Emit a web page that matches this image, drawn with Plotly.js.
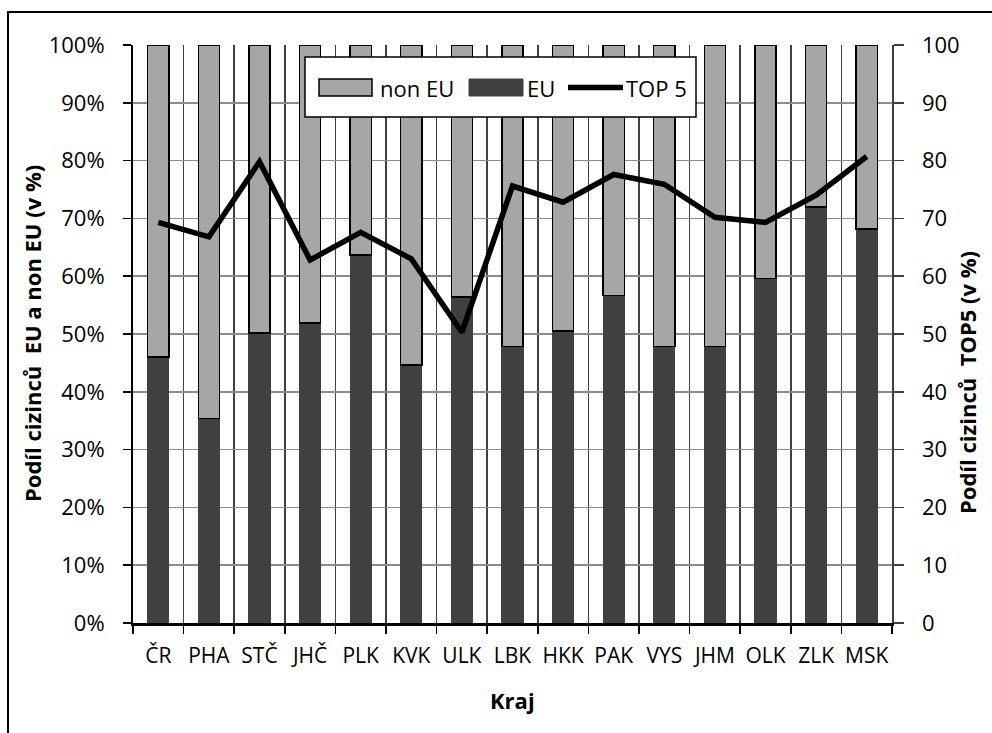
<!DOCTYPE html>
<html>
<head>
<meta charset="utf-8">
<script src="https://cdn.plot.ly/plotly-3.0.1.min.js"></script>
<style>html,body{margin:0;padding:0;background:#fff;overflow:hidden;}</style>
</head>
<body>
<div id="chart" style="width:992px;height:733px;"></div>
<script>
// ---- data ----
const categories = ["ČR","PHA","STČ","JHČ","PLK","KVK","ULK","LBK","HKK","PAK","VYS","JHM","OLK","ZLK","MSK"];
const euShare = [46.0,35.4,50.2,51.9,63.7,44.6,56.4,47.8,50.5,56.7,47.8,47.8,59.6,72.0,68.2];
const nonEuShare = euShare.map(v => +(100 - v).toFixed(1));
const top5Share = [69.3,66.8,79.8,62.8,67.6,63.0,50.3,75.6,72.8,77.6,75.9,70.2,69.3,74.0,80.7];
const leftTicks = [0,10,20,30,40,50,60,70,80,90,100];
const leftTickText = leftTicks.map(v => v + "%");
const rightTicks = [0,10,20,30,40,50,60,70,80,90,100];

// ---- geometry helpers (pixel -> paper) ----
const W = 992, H = 733;
const M = {l:133, r:100, t:45, b:110};
const PW = W - M.l - M.r, PH = H - M.t - M.b;
const px = x => (x - M.l) / PW;
const py = y => (H - M.b - y) / PH;

const FONT = "Open Sans, Noto Sans, sans-serif";
const EU_COLOR = "#404040", NONEU_COLOR = "#a6a6a6";

const traces = [
  {type:"bar", name:"EU", x:categories, y:euShare, marker:{color:EU_COLOR, line:{color:EU_COLOR, width:1}}, hoverinfo:"x+y"},
  {type:"bar", name:"non EU", x:categories, y:nonEuShare, marker:{color:NONEU_COLOR, line:{color:"#000", width:1.5}}, hoverinfo:"x+y"},
  {type:"scatter", mode:"lines", name:"TOP 5", x:categories, y:top5Share, yaxis:"y2", line:{color:"#000", width:5.5}}
];

const layout = {
  width:W, height:H,
  margin:M,
  paper_bgcolor:"#fff", plot_bgcolor:"#fff",
  barmode:"stack", bargap:0.58,
  showlegend:false,
  font:{family:FONT, size:22, color:"#000"},
  xaxis:{
    type:"category", tickson:"boundaries", tickangle:0,
    showgrid:true, gridcolor:"#404040", gridwidth:1.5,
    showline:true, linecolor:"#000", linewidth:2.5,
    ticks:"outside", ticklen:8, tickcolor:"#000", tickwidth:1.5,
    ticklabelstandoff:12,
    tickfont:{family:FONT, size:21, color:"#000"},
    fixedrange:true
  },
  yaxis:{
    range:[0,100], tickvals:leftTicks, ticktext:leftTickText,
    showgrid:true, gridcolor:"#8c8c8c", gridwidth:1.5,
    showline:true, linecolor:"#000", linewidth:2,
    ticks:"outside", ticklen:8, tickcolor:"#000", tickwidth:1.5,
    ticklabelstandoff:14,
    zeroline:false,
    tickfont:{family:FONT, size:22, color:"#000"},
    fixedrange:true
  },
  yaxis2:{
    overlaying:"y", side:"right", range:[0,100], tickvals:rightTicks,
    showgrid:false, zeroline:false,
    showline:true, linecolor:"#404040", linewidth:1.5,
    ticks:"outside", ticklen:10, tickcolor:"#404040", tickwidth:1.5,
    ticklabelstandoff:14,
    tickfont:{family:FONT, size:22, color:"#000"},
    fixedrange:true
  },
  shapes:[
    {type:"rect", xref:"paper", yref:"paper", x0:px(8), x1:px(1005), y0:py(800), y1:py(12), line:{color:"#000", width:2}, fillcolor:"rgba(0,0,0,0)", layer:"above"},
    {type:"rect", xref:"paper", yref:"paper", x0:px(305), x1:px(696), y0:py(117), y1:py(57), line:{color:"#000", width:1.5}, fillcolor:"#fff", layer:"above"},
    {type:"rect", xref:"paper", yref:"paper", x0:px(319), x1:px(372), y0:py(96), y1:py(79), line:{color:"#000", width:1.5}, fillcolor:NONEU_COLOR, layer:"above"},
    {type:"rect", xref:"paper", yref:"paper", x0:px(469), x1:px(523), y0:py(96), y1:py(79), line:{color:EU_COLOR, width:1}, fillcolor:EU_COLOR, layer:"above"},
    {type:"line", xref:"paper", yref:"paper", x0:px(568), x1:px(623), y0:py(87.5), y1:py(87.5), line:{color:"#000", width:5.5}, layer:"above"}
  ],
  annotations:[
    {xref:"paper", yref:"paper", x:px(378), y:py(88), xanchor:"left", yanchor:"middle", text:"non EU", showarrow:false, font:{family:FONT, size:22, color:"#000"}},
    {xref:"paper", yref:"paper", x:px(525), y:py(88), xanchor:"left", yanchor:"middle", text:"EU", showarrow:false, font:{family:FONT, size:22, color:"#000"}},
    {xref:"paper", yref:"paper", x:px(624), y:py(88), xanchor:"left", yanchor:"middle", text:"TOP 5", showarrow:false, font:{family:FONT, size:22, color:"#000"}},
    {xref:"paper", yref:"paper", x:px(512), y:py(700), xanchor:"center", yanchor:"middle", text:"<b>Kraj</b>", showarrow:false, font:{family:FONT, size:22, color:"#000"}},
    {xref:"paper", yref:"paper", x:px(32), y:py(334), xanchor:"center", yanchor:"middle", textangle:-90, text:"<b>Podíl cizinců\u00a0 EU a non EU (v %)</b>", showarrow:false, font:{family:FONT, size:22, color:"#000"}},
    {xref:"paper", yref:"paper", x:px(967), y:py(383), xanchor:"center", yanchor:"middle", textangle:-90, text:"<b>Podíl cizinců\u00a0 TOP5 (v %)</b>", showarrow:false, font:{family:FONT, size:22, color:"#000"}}
  ]
};

Plotly.newPlot("chart", traces, layout, {displayModeBar:false, staticPlot:true});
</script>
</body>
</html>
